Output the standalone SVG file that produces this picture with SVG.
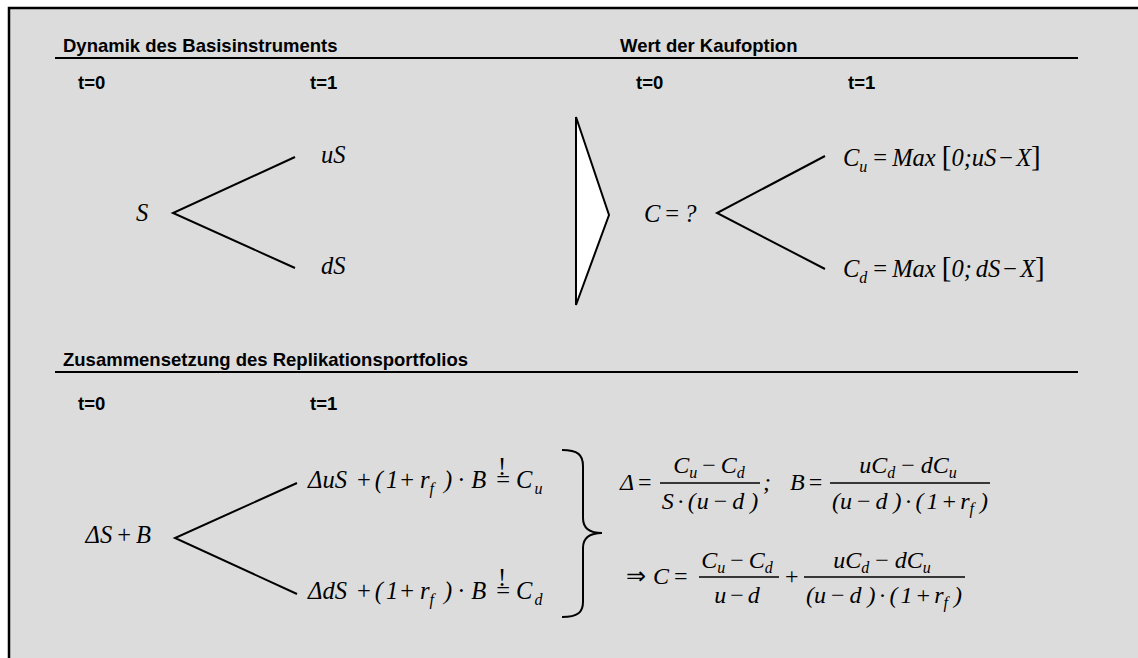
<svg xmlns="http://www.w3.org/2000/svg" width="1138" height="658" viewBox="0 0 1138 658">
  <style>
    .frame { fill: #DCDCDC; stroke: #000; stroke-width: 2.5; }
    .rule { stroke: #000; stroke-width: 2; }
    .edge { stroke: #000; stroke-width: 2; fill: none; }
    .h { font-family: "Liberation Sans", Arial, sans-serif; font-weight: bold; font-size: 18.5px; fill: #000; }
    .m { font-family: "Liberation Serif", "Times New Roman", serif; font-style: italic; font-size: 24.5px; fill: #000; }
    .f { font-family: "Liberation Serif", "Times New Roman", serif; font-style: italic; font-size: 24px; fill: #000; }
    .u { font-style: normal; }
    .s { font-size: 16px; }
    .b { font-size: 29px; font-style: normal; }
    .bar { stroke: #000; stroke-width: 1.3; }
  </style>

  <!-- panel -->
  <rect class="frame" x="9" y="8" width="1140" height="660"/>

  <!-- section headings and rules -->
  <g id="headings">
    <text class="h" x="63" y="52">Dynamik des Basisinstruments</text>
    <text class="h" x="620" y="52">Wert der Kaufoption</text>
    <line class="rule" x1="55" y1="58" x2="1078" y2="58"/>
    <text class="h" x="78" y="89">t=0</text>
    <text class="h" x="310" y="89">t=1</text>
    <text class="h" x="636" y="89">t=0</text>
    <text class="h" x="848" y="89">t=1</text>

    <text class="h" x="63" y="366">Zusammensetzung des Replikationsportfolios</text>
    <line class="rule" x1="55" y1="372" x2="1078" y2="372"/>
    <text class="h" x="78" y="410">t=0</text>
    <text class="h" x="310" y="410">t=1</text>
  </g>

  <!-- connectors -->
  <g id="connectors">
    <polyline class="edge" points="295,157 173,213 295,268"/>
    <polyline class="edge" points="825,156 717,213 825,269"/>
    <polyline class="edge" points="297,483 175,538 297,594"/>
    <path class="edge" d="M562,450 C578,450 583,455 583,466 L583,518 C583,528 590,533 602,533 C590,533 583,538 583,548 L583,602 C583,612 578,617 562,617"/>
  </g>

  <!-- arrow between the two trees -->
  <g id="arrow">
    <polygon points="576,117 609,215 576,305" fill="#fff" stroke="#000" stroke-width="2"/>
  </g>

  <!-- underlying tree -->
  <g id="node-s"><text class="m" x="136" y="221">S</text></g>
  <g id="node-us"><text class="m" x="321" y="163">uS</text></g>
  <g id="node-ds"><text class="m" x="321" y="274">dS</text></g>

  <!-- option tree -->
  <g id="node-c"><text class="m" x="644" y="222">C<tspan class="u" dx="5">=</tspan><tspan dx="5">?</tspan></text></g>
  <g id="node-cu"><text class="m" x="843" y="166">C<tspan class="s" dy="6">u</tspan><tspan class="u" dy="-6" dx="6">=</tspan><tspan dx="5">Max</tspan><tspan class="b" dx="6">[</tspan>0;uS<tspan class="u" dx="3">−</tspan><tspan dx="3">X</tspan><tspan class="b">]</tspan></text></g>
  <g id="node-cd"><text class="m" x="843" y="277">C<tspan class="s" dy="6">d</tspan><tspan class="u" dy="-6" dx="6">=</tspan><tspan dx="5">Max</tspan><tspan class="b" dx="6">[</tspan>0;<tspan dx="4">dS</tspan><tspan class="u" dx="3">−</tspan><tspan dx="3">X</tspan><tspan class="b">]</tspan></text></g>

  <!-- replicating portfolio tree -->
  <g id="node-portfolio"><text class="m" x="151" y="543" text-anchor="end">ΔS<tspan class="u" dx="5">+</tspan><tspan dx="5">B</tspan></text></g>
  <g id="node-up">
    <text class="m" x="308" y="488">ΔuS<tspan class="u" dx="10">+</tspan><tspan dx="4">(</tspan><tspan dx="3">1</tspan><tspan class="u" dx="2">+</tspan><tspan dx="6">r</tspan><tspan class="s" dy="6">f</tspan><tspan dy="-6" dx="10">)</tspan><tspan class="u" dx="5">·</tspan><tspan dx="6">B</tspan><tspan class="u" dx="10">=</tspan><tspan dx="6">C</tspan><tspan class="s" dy="6" dx="2">u</tspan></text>
    <text class="m u" x="502" y="475" font-size="19" text-anchor="middle">!</text>
  </g>
  <g id="node-down">
    <text class="m" x="308" y="599">ΔdS<tspan class="u" dx="10">+</tspan><tspan dx="4">(</tspan><tspan dx="3">1</tspan><tspan class="u" dx="2">+</tspan><tspan dx="6">r</tspan><tspan class="s" dy="6">f</tspan><tspan dy="-6" dx="10">)</tspan><tspan class="u" dx="5">·</tspan><tspan dx="6">B</tspan><tspan class="u" dx="10">=</tspan><tspan dx="6">C</tspan><tspan class="s" dy="6" dx="2">d</tspan></text>
    <text class="m u" x="502" y="586" font-size="19" text-anchor="middle">!</text>
  </g>

  <!-- solution: delta and bond position -->
  <g id="solution">
    <text class="f" x="620" y="490">Δ<tspan class="u" dx="4">=</tspan></text>
    <line class="bar" x1="660" y1="483" x2="760" y2="483"/>
    <text class="f" x="709" y="473" text-anchor="middle">C<tspan class="s" dy="5">u</tspan><tspan class="u" dy="-5" dx="5">−</tspan><tspan dx="5">C</tspan><tspan class="s" dy="5">d</tspan></text>
    <text class="f" x="710" y="509" text-anchor="middle">S<tspan class="u" dx="3">·</tspan><tspan dx="3">(</tspan><tspan dx="1">u</tspan><tspan class="u" dx="5">−</tspan><tspan dx="5">d</tspan><tspan dx="6">)</tspan></text>
    <text class="f" x="763" y="490">;</text>
    <text class="f" x="790" y="490">B<tspan class="u" dx="4">=</tspan></text>
    <line class="bar" x1="830" y1="483" x2="990" y2="483"/>
    <text class="f" x="908" y="473" text-anchor="middle">uC<tspan class="s" dy="5">d</tspan><tspan class="u" dy="-5" dx="6">−</tspan><tspan dx="6">dC</tspan><tspan class="s" dy="5">u</tspan></text>
    <text class="f" x="910" y="509" text-anchor="middle">(u<tspan class="u" dx="5">−</tspan><tspan dx="5">d</tspan><tspan dx="6">)</tspan><tspan class="u" dx="3">·</tspan><tspan dx="3">(</tspan><tspan dx="3">1</tspan><tspan class="u" dx="4">+</tspan><tspan dx="4">r</tspan><tspan class="s" dy="5">f</tspan><tspan dy="-5" dx="6">)</tspan></text>
  </g>

  <!-- resulting option value -->
  <g id="result">
    <text class="f" x="626" y="584"><tspan class="u">⇒</tspan><tspan dx="7">C</tspan><tspan class="u" dx="5">=</tspan></text>
    <line class="bar" x1="699" y1="577" x2="779" y2="577"/>
    <text class="f" x="737" y="568" text-anchor="middle">C<tspan class="s" dy="5">u</tspan><tspan class="u" dy="-5" dx="5">−</tspan><tspan dx="5">C</tspan><tspan class="s" dy="5">d</tspan></text>
    <text class="f" x="737" y="603" text-anchor="middle">u<tspan class="u" dx="4">−</tspan><tspan dx="4">d</tspan></text>
    <text class="f u" x="785" y="584">+</text>
    <line class="bar" x1="804" y1="577" x2="965" y2="577"/>
    <text class="f" x="882" y="568" text-anchor="middle">uC<tspan class="s" dy="5">d</tspan><tspan class="u" dy="-5" dx="6">−</tspan><tspan dx="6">dC</tspan><tspan class="s" dy="5">u</tspan></text>
    <text class="f" x="884" y="603" text-anchor="middle">(u<tspan class="u" dx="5">−</tspan><tspan dx="5">d</tspan><tspan dx="6">)</tspan><tspan class="u" dx="3">·</tspan><tspan dx="3">(</tspan><tspan dx="3">1</tspan><tspan class="u" dx="4">+</tspan><tspan dx="4">r</tspan><tspan class="s" dy="5">f</tspan><tspan dy="-5" dx="6">)</tspan></text>
  </g>
</svg>
